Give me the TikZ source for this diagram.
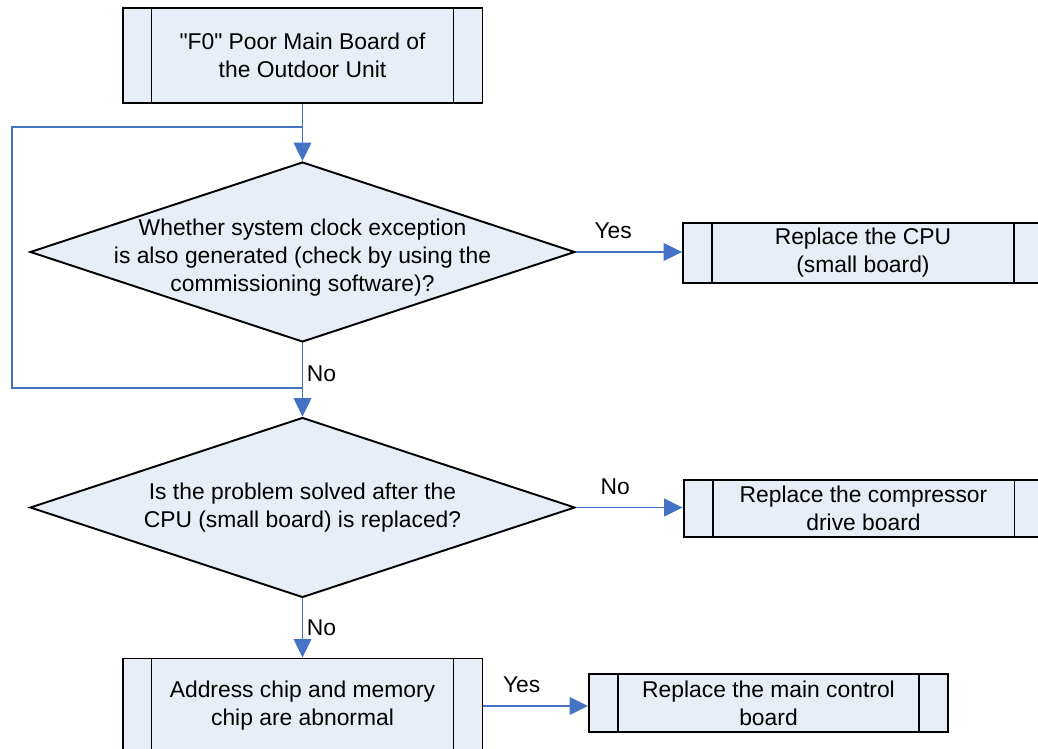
\documentclass[tikz,border=0pt]{standalone}
\usepackage{fontspec}
\setmainfont{Liberation Sans}[Ligatures=TeXOff]
\usetikzlibrary{shapes.geometric,arrows.meta}
\definecolor{boxfill}{HTML}{E8EEF7}
\definecolor{linkblue}{HTML}{4472C4}
\begin{document}
\begin{tikzpicture}[
  x=0.02cm, y=-0.02cm,
  every node/.style={font=\fontsize{13}{15.9}\selectfont, align=center},
  proc/.style={rectangle, draw=black, line width=1.1pt, fill=boxfill, minimum width=7.2cm, inner sep=0pt,
    path picture={
      \draw[line width=1.1pt] ([xshift=0.58cm]path picture bounding box.north west) -- ([xshift=0.58cm]path picture bounding box.south west);
      \draw[line width=1.1pt] ([xshift=-0.58cm]path picture bounding box.north east) -- ([xshift=-0.58cm]path picture bounding box.south east);}},
  cond/.style={diamond, draw=black, line width=1.1pt, fill=boxfill, minimum width=10.9cm, minimum height=3.6cm, inner sep=0pt, aspect=3},
  link/.style={draw=linkblue, line width=1.1pt},
  seta/.style={link, -{Triangle[length=10.5pt, width=10pt]}},
  lbl/.style={inner sep=2pt}
]
\useasboundingbox (0,0) rectangle (1038,749);

% Fluxo principal
\node[proc, minimum height=1.9cm] (start) at (302.5, 55.5) {"F0" Poor Main Board of\\the Outdoor Unit};
\node[cond] (clock) at (302.5, 252) {};
\node (clocktxt) at (302.5, 258) {Whether system clock exception\\is also generated (check by using the\\commissioning software)?};
\node[cond] (solved) at (302.5, 507.5) {};
\node (solvedtxt) at (302.5, 507.5) {Is the problem solved after the\\CPU (small board) is replaced?};
\node[proc, minimum height=1.9cm] (chip) at (302.5, 706) {Address chip and memory\\chip are abnormal};

% Caixas de substituição
\node[proc, minimum height=1.2cm] (cpu) at (863, 253) {Replace the CPU\\(small board)};
\node[proc, minimum height=1.14cm] (drive) at (863.5, 508.5) {Replace the compressor\\drive board};
\node[proc, minimum height=1.16cm, minimum width=7.18cm] (mainctl) at (768.5, 703) {Replace the main control\\board};

% Ligações
\coordinate (jtop) at (302.5, 127);
\coordinate (jno) at (302.5, 388);
\draw[seta] (start) -- (clock.north);
\draw[seta] (clock.south) -- (solved.north) node[lbl, right, pos=.42] {No};
\draw[link] (jno) -- ++(-290.5, 0) |- (jtop);
\draw[seta] (clock.east) -- (clock.east -| cpu.west) node[lbl, above=5pt, midway, xshift=-9] {Yes};
\draw[seta] (solved.east) -- (solved.east -| drive.west) node[lbl, above=5pt, midway, xshift=-8] {No};
\draw[seta] (solved.south) -- (chip) node[lbl, right, midway] {No};
\draw[seta] (chip.east) -- (chip.east -| mainctl.west) node[lbl, above=5pt, midway, xshift=-8] {Yes};
\end{tikzpicture}
\end{document}
